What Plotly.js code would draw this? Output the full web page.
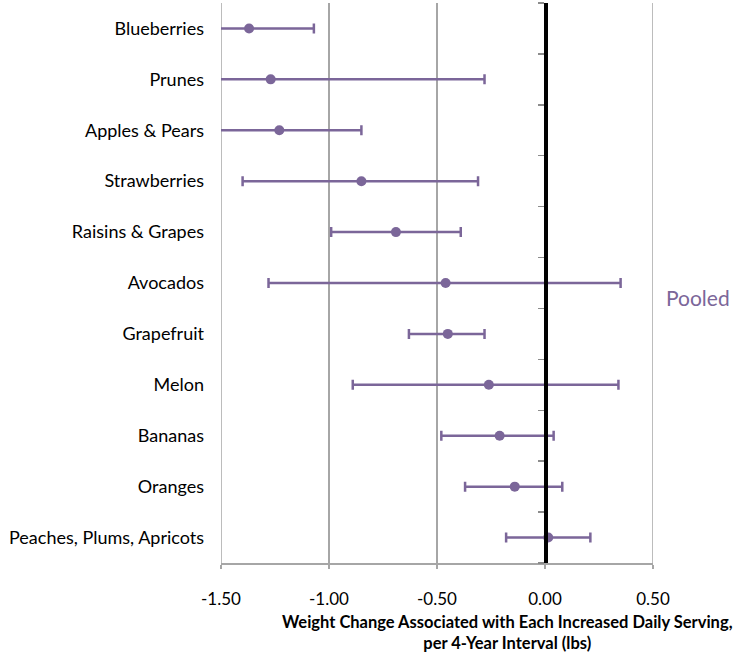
<!DOCTYPE html>
<html>
<head>
<meta charset="utf-8">
<script src="https://cdn.plot.ly/plotly-3.0.1.min.js"></script>
<style>html,body{margin:0;padding:0;background:#fff;}#chart{width:737px;height:657px;}</style>
</head>
<body>
<div id="chart"></div>
<script>
// Data (lbs per 4-year interval)
const fruits = ["Blueberries", "Prunes", "Apples & Pears", "Strawberries", "Raisins & Grapes",
  "Avocados", "Grapefruit", "Melon", "Bananas", "Oranges", "Peaches, Plums, Apricots"];
const estimate = [-1.37, -1.27, -1.23, -0.85, -0.69, -0.46, -0.45, -0.26, -0.21, -0.14, 0.015];
const ciLower  = [-1.67, -2.27, -1.60, -1.40, -0.99, -1.28, -0.63, -0.89, -0.48, -0.37, -0.18];
const ciUpper  = [-1.07, -0.28, -0.85, -0.31, -0.39, 0.35, -0.28, 0.34, 0.04, 0.08, 0.21];
const xTicks = [-1.5, -1.0, -0.5, 0.0, 0.5];
const xTickText = ["-1.50", "-1.00", "-0.50", "0.00", "0.50"];
const pooledLabel = "Pooled";
const xTitleLines = ["Weight Change Associated with Each Increased Daily Serving,", "per 4-Year Interval (lbs)"];

const purple = "#7b6699";
const gridColor = "#a6a6a6";
const font = "Lato, 'Open Sans', sans-serif";

const plus = ciUpper.map((u, i) => u - estimate[i]);
const minus = ciLower.map((l, i) => estimate[i] - l);

const traces = [
  {
    type: "scatter", mode: "markers",
    x: estimate, y: fruits,
    marker: {color: purple, size: 10},
    error_x: {type: "data", array: plus, arrayminus: minus, symmetric: false,
      color: purple, thickness: 2.5, width: 5},
    showlegend: false, hoverinfo: "x+y"
  },
  {
    type: "scatter", mode: "markers", x: [], y: [], yaxis: "y2",
    showlegend: false, hoverinfo: "skip"
  }
];

const n = fruits.length;
const boundaries = Array.from({length: n + 1}, (_, k) => k - 0.5);
const xMin = xTicks[0], xMax = xTicks[xTicks.length - 1];

// edge gridlines (Plotly omits gridlines exactly on the range ends)
const edgeGrid = [xMin, xMax].map(v => ({
  type: "line", xref: "x", yref: "paper", x0: v, x1: v, y0: 0, y1: 1,
  line: {color: gridColor, width: 1.5}, layer: "below"
}));

const layout = {
  width: 737, height: 657,
  margin: {l: 221, r: 84, t: 3, b: 94},
  paper_bgcolor: "#fff", plot_bgcolor: "#fff",
  font: {family: font, size: 15, color: "#000"},
  xaxis: {
    range: [xMin, xMax],
    tickvals: xTicks, ticktext: xTickText,
    showgrid: true, gridcolor: gridColor, gridwidth: 1.5,
    showline: true, linecolor: gridColor, linewidth: 1.5,
    ticks: "outside", ticklen: 4, tickcolor: gridColor, tickwidth: 1.5,
    zeroline: false,
    tickfont: {family: font, size: 17, color: "#000"},
    ticklabelstandoff: 16,
    fixedrange: true
  },
  yaxis: {
    type: "category", categoryorder: "array", categoryarray: fruits,
    range: [n - 0.5, -0.5],
    showgrid: false, showline: false, zeroline: false, ticks: "",
    tickfont: {family: font, size: 18, color: "#000"},
    ticklabelstandoff: 16,
    fixedrange: true
  },
  yaxis2: {
    overlaying: "y", anchor: "free", side: "left",
    position: (0 - xMin) / (xMax - xMin),
    range: [n - 0.5, -0.5],
    tickvals: boundaries, showticklabels: false,
    ticks: "outside", ticklen: 6, tickcolor: "#8c8c8c", tickwidth: 1.5,
    showline: true, linecolor: "#000", linewidth: 3.5,
    showgrid: false, zeroline: false, fixedrange: true
  },
  shapes: edgeGrid,
  annotations: [
    {
      text: xTitleLines.map(t => "<b>" + t + "</b>").join("<br>"),
      xref: "paper", yref: "paper", x: 0.663, y: 0,
      xanchor: "center", yanchor: "top", yshift: -47,
      showarrow: false, align: "center",
      font: {family: font, size: 16.5, color: "#000"}
    },
    {
      text: pooledLabel,
      xref: "paper", yref: "paper", x: 1.104, y: 0.475,
      xanchor: "center", yanchor: "middle",
      showarrow: false,
      font: {family: font, size: 21, color: purple}
    }
  ]
};

Plotly.newPlot("chart", traces, layout, {staticPlot: true, displayModeBar: false});
</script>
</body>
</html>
